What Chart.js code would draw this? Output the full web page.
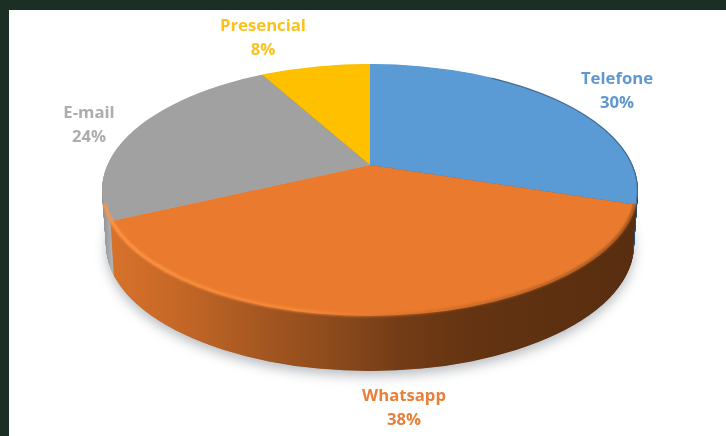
<!DOCTYPE html>
<html>
<head>
<meta charset="utf-8">
<script src="https://cdn.jsdelivr.net/npm/chart.js@4"></script>
<style>
  html, body { margin: 0; height: 100%; background: #1b2f25; overflow: hidden; }
  #panel { position: absolute; left: 9px; top: 10px; right: 0; bottom: 0; background: #fff; }
  #chart { position: absolute; left: 0; top: 0; filter: blur(0.55px); }
</style>
</head>
<body>
<div id="panel"></div>
<canvas id="chart" width="726" height="436"></canvas>
<script>
const categories = ["Telefone", "Whatsapp", "E-mail", "Presencial"];
const shares = [30, 38, 24, 8];
const sliceColors = ["#5b9bd5", "#ea7b2e", "#a1a1a1", "#ffc000"];
const labelColors = ["#5f97d0", "#e97f38", "#adadad", "#fcc21b"];

// the pie is tilted: apex sits above the middle of the rim ellipse
const apex = { x: 370, y: 165 };
const rim = { x: 370, y: 190, rx: 268, ry: 126 };
const depth = 55;
const depthShrink = 4;
const scaleX = 2;
const scaleY = 0.92;

// side wall colours, stops are page x positions
const sideStops = [
  [[100, "#7e8184"], [115, "#a9abad"]],
  [[110, "#d8722b"], [180, "#c46726"], [240, "#ad5b22"], [333, "#8c4a1c"], [400, "#733c16"], [470, "#653412"], [560, "#5c3010"], [640, "#592e10"]],
  [[100, "#85888b"], [112, "#b0b2b4"]],
  [[260, "#a88000"], [370, "#a88000"]],
];
const blueSide = [[625, "#3f6f9c"], [640, "#1f3a55"]];

function ellipsePath(ctx, d) {
  const s = depthShrink * d / depth;
  ctx.beginPath();
  ctx.ellipse(rim.x, rim.y + d, rim.rx - s, rim.ry, 0, 0, Math.PI * 2);
}

function toPie(ctx, arc, d) {
  ctx.translate(apex.x, apex.y + d);
  ctx.scale(scaleX, scaleY);
  ctx.translate(-arc.x, -arc.y);
}

function sideGradient(ctx, arc, stops) {
  const first = stops[0][0];
  const last = stops[stops.length - 1][0];
  const toChart = (x) => (x - apex.x) / scaleX + arc.x;
  const g = ctx.createLinearGradient(toChart(first), 0, toChart(last), 0);
  stops.forEach(([x, c]) => g.addColorStop((x - first) / (last - first), c));
  return g;
}

const pie3d = {
  id: "pie3d",
  beforeDatasetsDraw(chart) {
    const ctx = chart.ctx;
    const arcs = chart.getDatasetMeta(0).data;

    // soft shadow under the pie
    ctx.save();
    ctx.shadowColor = "rgba(70,80,90,0.38)";
    ctx.shadowBlur = 12;
    ctx.shadowOffsetY = 5;
    ctx.fillStyle = "#a0a0a0";
    ellipsePath(ctx, depth);
    ctx.fill();
    ctx.restore();

    const fills = arcs.map((arc, i) =>
      sideGradient(ctx, arc, i === 0 ? blueSide : sideStops[i]));

    for (let d = depth; d > 0; d -= 0.5) {
      ctx.save();
      ellipsePath(ctx, d);
      ctx.clip();
      toPie(ctx, arcs[0], d);
      arcs.forEach((arc, i) => {
        const base = arc.options;
        arc.options = Object.assign(Object.create(base), { backgroundColor: fills[i], borderWidth: 0 });
        arc.draw(ctx);
        arc.options = base;
      });
      ctx.restore();
    }
  },
  beforeDatasetDraw(chart) {
    const ctx = chart.ctx;
    const arcs = chart.getDatasetMeta(0).data;
    ctx.save();
    ellipsePath(ctx, 0);
    ctx.clip();
    toPie(ctx, arcs[0], 0);
  },
  afterDatasetDraw(chart) {
    const ctx = chart.ctx;
    ctx.restore();

    // bevel along the front rim of the top face
    ctx.save();
    const g = ctx.createLinearGradient(110, 0, 635, 0);
    g.addColorStop(0, "rgba(255,150,70,0.95)");
    g.addColorStop(0.4, "rgba(250,140,62,0.7)");
    g.addColorStop(0.6, "rgba(200,105,42,0.5)");
    g.addColorStop(1, "rgba(130,70,25,0.7)");
    ctx.strokeStyle = g;
    ctx.lineWidth = 3.5;
    ctx.filter = "blur(1.3px)";
    ctx.beginPath();
    ctx.ellipse(rim.x, rim.y, rim.rx - 1, rim.ry - 1, 0, 0.115, 3.03);
    ctx.stroke();
    ctx.restore();

    // thin dark edge on the right of the blue slice
    ctx.save();
    ctx.strokeStyle = "rgba(40,70,100,0.55)";
    ctx.lineWidth = 1.2;
    ctx.beginPath();
    ctx.ellipse(rim.x, rim.y, rim.rx - 0.5, rim.ry - 0.5, 0, -1.1, 0.09);
    ctx.stroke();
    ctx.restore();
  },
  afterDraw(chart) {
    const ctx = chart.ctx;
    const spots = [[617, 79], [404, 396], [89, 113], [263, 26]];
    ctx.save();
    ctx.font = "bold 16.7px 'Open Sans'";
    ctx.textAlign = "center";
    ctx.textBaseline = "middle";
    categories.forEach((name, i) => {
      ctx.fillStyle = labelColors[i];
      ctx.fillText(name, spots[i][0], spots[i][1]);
      ctx.fillText(shares[i] + "%", spots[i][0], spots[i][1] + 24);
    });
    ctx.restore();
  },
};

new Chart(document.getElementById("chart"), {
  type: "pie",
  data: {
    labels: categories,
    datasets: [{
      data: shares,
      backgroundColor: sliceColors,
      borderWidth: 0,
      clip: false,
    }],
  },
  options: {
    responsive: false,
    animation: false,
    plugins: {
      legend: { display: false },
      tooltip: { enabled: false },
    },
  },
  plugins: [pie3d],
});
</script>
</body>
</html>
